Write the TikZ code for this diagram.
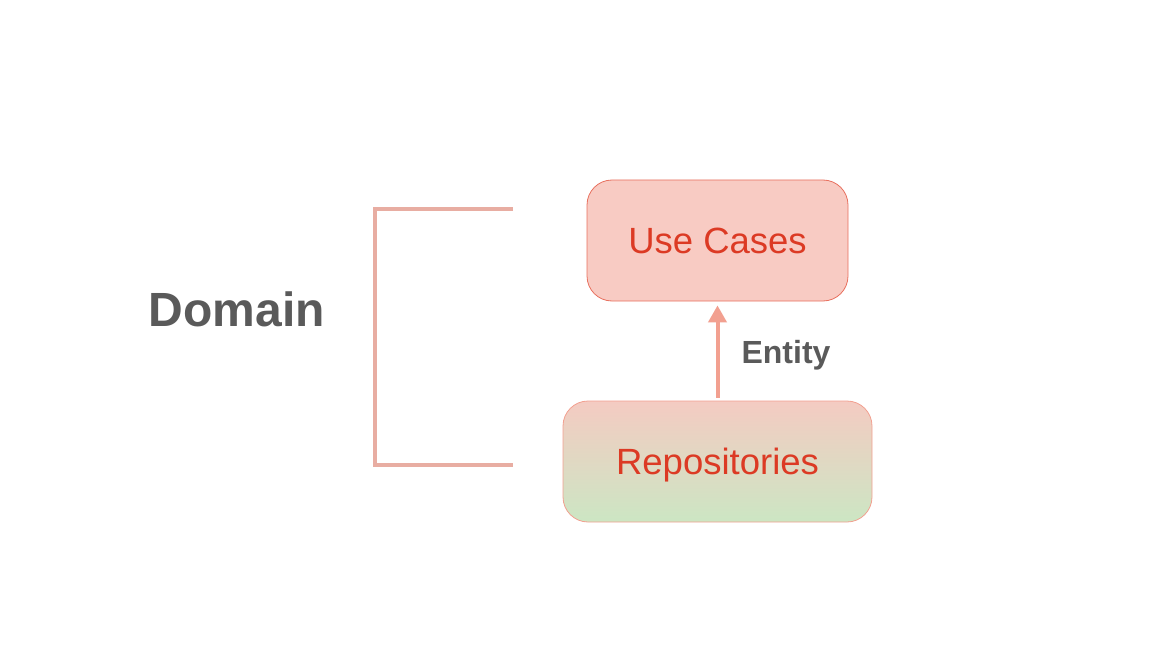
\documentclass[tikz,border=0pt]{standalone}
\usepackage{fontspec}
\setmainfont{Liberation Sans}
\usetikzlibrary{arrows.meta}
\definecolor{boxred}{HTML}{F8CBC3}
\definecolor{lineRed}{HTML}{E8705E}
\definecolor{txtRed}{HTML}{DC3A24}
\definecolor{txtGray}{HTML}{5A5A5A}
\definecolor{arrRed}{HTML}{F2A090}
\definecolor{brRed}{HTML}{E8ADA2}
\definecolor{repTop}{HTML}{F4CBC2}
\definecolor{repBot}{HTML}{CCE6C3}
\tikzset{
  layer/.style={rounded corners=25pt, minimum height=121pt, text=txtRed,
    font=\fontsize{36.5}{40}\selectfont, line width=0.8pt},
}
\begin{document}
\begin{tikzpicture}[x=1pt,y=-1pt]
            % Page size as the reference
            \useasboundingbox (0,0) rectangle (1174,668);
            % The two layers
            \node[layer, draw=lineRed, fill=boxred, minimum width=261pt, text depth=0pt] (usecases) at (717.5,240.5) {Use Cases};
            \node[layer, draw=arrRed, top color=repTop, bottom color=repBot, minimum width=309pt, text depth=0pt] (repos) at (717.5,461.5) {Repositories};
            % Arrow between them
            \draw[arrRed, line width=4pt, shorten >=4pt, shorten <=3pt, -{Triangle[width=18pt,length=17pt]}] (repos.north) -- (usecases.south);
            \node[text=txtGray, font=\fontsize{32}{34}\selectfont\bfseries] (entity) at (786,355) {Entity};
            % Bracket round the domain
            \coordinate (brtop) at (513,209);
            \coordinate (brbot) at (513,465);
            \draw[brRed, line width=4pt] (brtop) -- (375,209) -- (375,465) -- (brbot);
            \node[text=txtGray, font=\fontsize{48}{52}\selectfont\bfseries] (domain) at (237,309) {Domain};
        \end{tikzpicture}
\end{document}
